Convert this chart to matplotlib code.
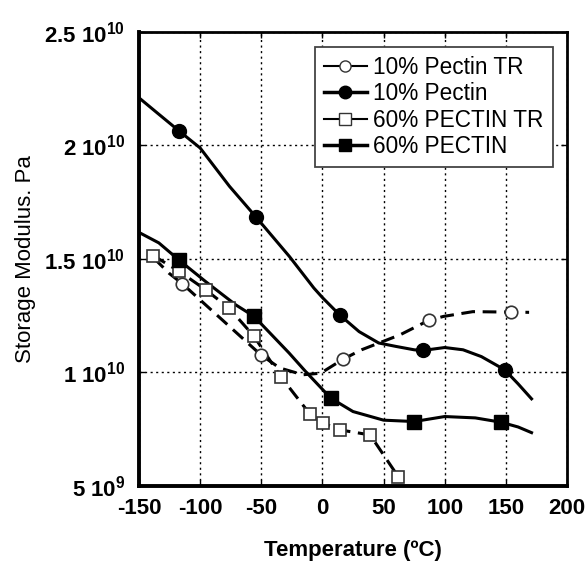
import numpy as np
import matplotlib.pyplot as plt
from matplotlib.lines import Line2D

plt.rcParams['font.family'] = ['Liberation Sans', 'DejaVu Sans']
plt.rcParams['mathtext.fontset'] = 'custom'
plt.rcParams['mathtext.rm'] = 'Liberation Sans:bold'
plt.rcParams['mathtext.it'] = 'Liberation Sans:bold'
plt.rcParams['mathtext.bf'] = 'Liberation Sans:bold'
plt.rcParams['mathtext.default'] = 'rm'

# curves (temperature in C, modulus in units of 1e10 Pa)
p10_x = [-150, -135, -117, -100, -76, -54.5, -27, -7, 0, 14, 30, 46, 60, 75, 82, 100, 115, 130, 149, 160, 171]
p10_y = [2.21, 2.143, 2.063, 1.989, 1.82, 1.686, 1.511, 1.372, 1.33, 1.254, 1.18, 1.13, 1.115, 1.10, 1.097, 1.11, 1.10, 1.07, 1.012, 0.95, 0.884]
p10_mx = [-117, -54.5, 14, 82, 149]
p10_my = [2.063, 1.686, 1.254, 1.097, 1.012]

p10tr_x = [-138, -125.6, -114.6, -50.4, -35, -16, -1.4, 17, 32, 63.5, 87, 99, 123, 154, 169]
p10tr_y = [1.505, 1.438, 1.391, 1.078, 1.02, 0.99, 0.997, 1.059, 1.10, 1.166, 1.23, 1.247, 1.268, 1.266, 1.265]
p10tr_mx = [-114.6, -50.4, 17, 87, 154]
p10tr_my = [1.391, 1.078, 1.059, 1.23, 1.266]

p60_x = [-150, -133.8, -117, -95.4, -70.9, -55.9, -27.3, -13.7, 6.8, 25, 50, 75, 100, 125, 146, 160, 171]
p60_y = [1.617, 1.571, 1.494, 1.40, 1.298, 1.247, 1.086, 1.004, 0.887, 0.828, 0.79, 0.784, 0.806, 0.80, 0.781, 0.76, 0.735]
p60_mx = [-117, -55.9, 6.8, 75, 146]
p60_my = [1.494, 1.247, 0.887, 0.784, 0.781]

p60tr_x = [-138.3, -117, -95.4, -76.4, -55.9, -34.1, -10.4, 0.7, 14.4, 39, 62]
p60tr_y = [1.515, 1.445, 1.364, 1.284, 1.159, 0.982, 0.818, 0.777, 0.747, 0.725, 0.541]

def e10(v):
    return np.array(v) * 1e10

fig = plt.figure(figsize=(5.88, 5.64), dpi=100)
ax = fig.add_axes([0.2364, 0.1383, 0.7279, 0.805])

lw = 2.2
dash = (0, (4.5, 2.5))
ax.plot(p10tr_x, e10(p10tr_y), color='black', lw=lw, ls=dash)
ax.plot(p60tr_x, e10(p60tr_y), color='black', lw=lw, ls=dash)
ax.plot(p10_x, e10(p10_y), color='black', lw=lw)
ax.plot(p60_x, e10(p60_y), color='black', lw=lw)

ax.plot(p10tr_mx, e10(p10tr_my), 'o', ms=9, mfc='white', mec='#333333', mew=1.2)
ax.plot(p60tr_x, e10(p60tr_y), 's', ms=8.5, mfc='white', mec='#333333', mew=1.2)
ax.plot(p10_mx, e10(p10_my), 'o', ms=10, color='black')
ax.plot(p60_mx, e10(p60_my), 's', ms=10, color='black')

ax.set_xlim(-150, 200)
ax.set_ylim(5e9, 2.5e10)
ax.set_xticks([-150, -100, -50, 0, 50, 100, 150, 200])
ax.set_xticklabels(['-150', '-100', '-50', '0', '50', '100', '150', '200'],
                   fontsize=16, fontweight='bold')
ax.set_yticks([5e9, 1e10, 1.5e10, 2e10, 2.5e10])
ax.set_yticklabels([r'5 10$^{9}$', r'1 10$^{10}$', r'1.5 10$^{10}$',
                    r'2 10$^{10}$', r'2.5 10$^{10}$'], fontsize=16, fontweight='bold')
ax.tick_params(direction='in', top=True, right=True, length=4, width=1)
ax.tick_params(axis='x', pad=9)
ax.tick_params(axis='y', pad=10)
ax.grid(True, color='black', ls=(0, (1.5, 2.5)), lw=1)

for s in ax.spines.values():
    s.set_linewidth(2)
ax.spines['left'].set_linewidth(2.8)
ax.spines['bottom'].set_linewidth(2.8)

ax.set_xlabel('Temperature (ºC)', fontsize=16, fontweight='bold', labelpad=15)
ax.set_ylabel('Storage Modulus. Pa', fontsize=16, labelpad=6)

handles = [
    Line2D([], [], color='black', lw=1.5, marker='o', ms=8, mfc='white', mec='#333333'),
    Line2D([], [], color='black', lw=2.5, marker='o', ms=9),
    Line2D([], [], color='black', lw=1.5, marker='s', ms=8, mfc='white', mec='#333333'),
    Line2D([], [], color='black', lw=2.5, marker='s', ms=9),
]
labels = ['10% Pectin TR', '10% Pectin', '60% PECTIN TR', '60% PECTIN']
leg = ax.legend(handles, labels, loc='upper right', bbox_to_anchor=(0.967, 0.967),
                borderaxespad=0, fontsize=16.3, fancybox=False, framealpha=1,
                edgecolor='#444444', handlelength=1.9, handletextpad=0.3,
                labelspacing=0.15, borderpad=0.4)
leg.get_frame().set_linewidth(1.3)

fig.savefig('out.png', dpi=100)
